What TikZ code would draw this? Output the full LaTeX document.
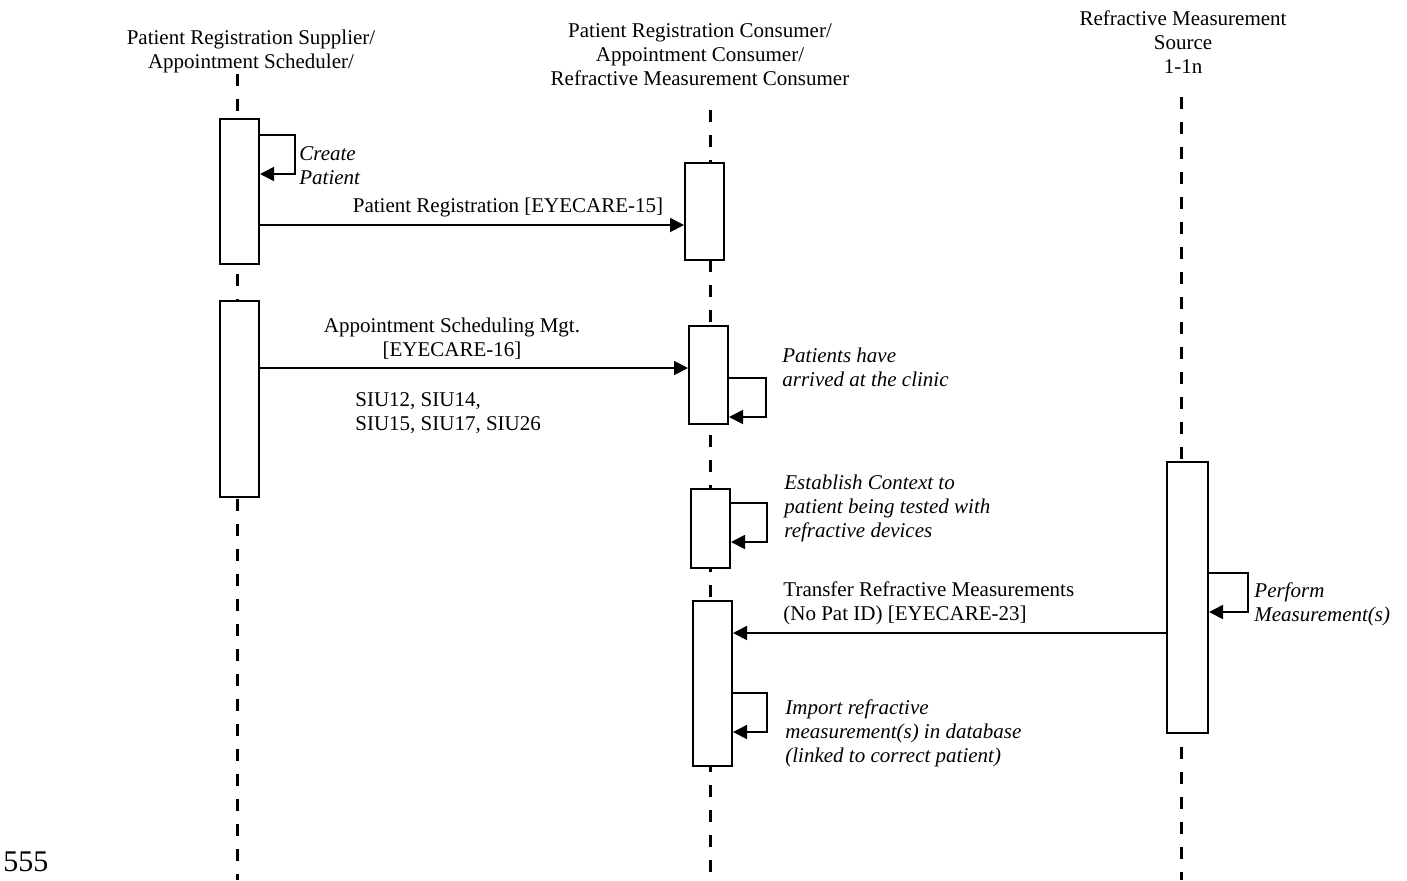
\documentclass[tikz,border=0pt]{standalone}
\usepackage{fontspec}
\setmainfont{Liberation Serif}
\usetikzlibrary{arrows.meta}

\begin{document}
\begin{tikzpicture}[x=0.5pt, y=-0.5pt,
            font=\fontsize{10.5}{12}\selectfont,
            act/.style={draw, fill=white, line width=1pt, minimum width=19.5pt, inner sep=0},
            life/.style={line width=1.5pt, dash pattern=on 6pt off 6.5pt},
            msg/.style={line width=0.9pt, -{Triangle[length=7pt,width=7pt]}},
            head/.style={align=center, inner sep=0},
            txt/.style={align=left, anchor=west, inner sep=0},
            note/.style={txt, font=\fontsize{10.5}{12}\selectfont\itshape}]
        \useasboundingbox (0,0) rectangle (1407,880);

        \node (h1) [head] at (251,51) {Patient Registration Supplier/\\Appointment Scheduler/};
        \node (h2) [head] at (700,55) {Patient Registration Consumer/\\Appointment Consumer/\\Refractive Measurement Consumer};
        \node (h3) [head] at (1183,42) {Refractive Measurement\\Source\\1-1n};

        \coordinate (t1) at (237,74);
        \coordinate (e1) at (237,880);
        \coordinate (t2) at (710,110);
        \coordinate (e2) at (710,880);
        \coordinate (t3) at (1181,97);
        \coordinate (e3) at (1181,880);
        \draw [life] (t1) -- (e1);
        \draw [life] (t2) -- (e2);
        \draw [life] (t3) -- (e3);

        \node (a1) [act, minimum height=72.5pt] at (239.5,191.5) {};
        \node (a2) [act, minimum height=98pt] at (239.5,399) {};
        \node (b1) [act, minimum height=48.5pt] at (704.5,211.5) {};
        \node (b2) [act, minimum height=49pt] at (708.5,375) {};
        \node (b3) [act, minimum height=39.5pt] at (710.5,528.5) {};
        \node (b4) [act, minimum height=82.5pt] at (712.5,683.5) {};
        \node (c1) [act, minimum height=135.5pt, minimum width=20.5pt] at (1187.5,597.5) {};

        \coordinate (r1) at (0,225);
        \coordinate (r2) at (0,368);
        \coordinate (r3) at (0,633);
        \draw [msg] (a1.east |- r1) -- (b1.west |- r1);
        \draw [msg] (a2.east |- r2) -- (b2.west |- r2);
        \draw [msg] (c1.west |- r3) -- (b4.east |- r3);

        \coordinate (p1) at (295,135);
        \coordinate (q1) at (295,174);
        \coordinate (p2) at (766,378);
        \coordinate (q2) at (766,417);
        \coordinate (p3) at (767,503);
        \coordinate (q3) at (767,542);
        \coordinate (p4) at (767,693);
        \coordinate (q4) at (767,732);
        \coordinate (p5) at (1248,573);
        \coordinate (q5) at (1248,612);
        \draw [msg] (a1.east |- p1) -- (p1) -- (q1) -- (a1.east |- q1);
        \draw [msg] (b2.east |- p2) -- (p2) -- (q2) -- (b2.east |- q2);
        \draw [msg] (b3.east |- p3) -- (p3) -- (q3) -- (b3.east |- q3);
        \draw [msg] (b4.east |- p4) -- (p4) -- (q4) -- (b4.east |- q4);
        \draw [msg] (c1.east |- p5) -- (p5) -- (q5) -- (c1.east |- q5);

        \node (l1) [head] at (508,207) {Patient Registration [EYECARE-15]};
        \node (l2) [head] at (452,339) {Appointment Scheduling Mgt.\\{[EYECARE-16]}};
        \node (l3) [txt] at (355,413) {SIU12, SIU14,\\SIU15, SIU17, SIU26};
        \node (l4) [txt] at (783,603) {Transfer Refractive Measurements\\(No Pat ID) [EYECARE-23]};

        \node (n1) [note] at (299,166) {Create\\Patient};
        \node (n2) [note] at (782,367) {Patients have\\arrived at the clinic};
        \node (n3) [note] at (784,508) {Establish Context to\\patient being tested with\\refractive devices};
        \node (n4) [note] at (785,733) {Import refractive\\measurement(s) in database\\(linked to correct patient)};
        \node (n5) [note] at (1254,604) {Perform\\Measurement(s)};

        \node (pg) [txt, font=\fontsize{15}{17}\selectfont] at (3,862) {555};
    \end{tikzpicture}
\end{document}
